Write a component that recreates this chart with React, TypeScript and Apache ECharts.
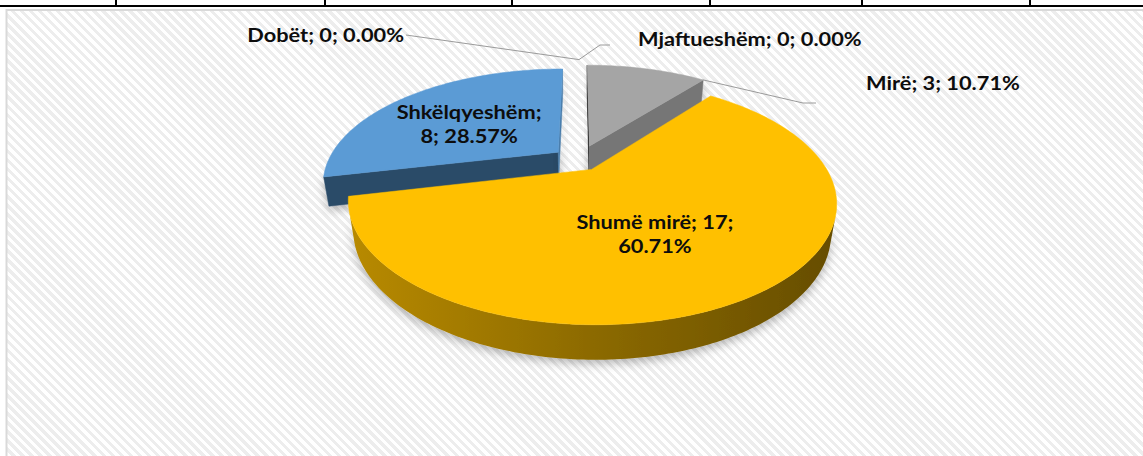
import React, { useEffect, useRef } from "react";
import * as echarts from "echarts";

// ---------- data ----------
const categories = ["Dobët", "Mjaftueshëm", "Mirë", "Shumë mirë", "Shkëlqyeshëm"];
const counts = [0, 0, 3, 17, 8];

// ---------- styles ----------
const sliceColors = ["#5B9BD5", "#ED7D31", "#A5A5A5", "#FFC000", "#5B9BD5"];
const explodePx = [32, 32, 32, 23, 27];
const VIEW = { cx: 579, cy: 160, r: 230, depth: 33, elevDeg: 28.2, camDist: 773 };
const TABLE_COLS = [116, 325, 512, 710, 862, 1030];
const FONT = { family: "Lato", size: 18, weight: "bold", scaleX: 1.21, color: "#0D0D0D" };

const labelCfg: Record<string, any> = {
  "Dobët": { mode: "outside", anchorAt: "start", anchorR: 1.08, path: [[406, 35]], pos: [404, 35], align: "right" },
  "Mjaftueshëm": { mode: "outside", anchorAt: "start", anchorR: 1.08, path: [[600, 45], [610, 45]], pos: [638, 39], align: "left" },
  "Mirë": { mode: "outside", anchorAt: "end", anchorR: 1.0, path: [[803, 103], [816, 103]], pos: [866, 83], align: "left" },
  "Shumë mirë": { mode: "inside", rFrac: 0.55, dx: -17, dy: 4, breakAfter: 2 },
  "Shkëlqyeshëm": { mode: "inside", rFrac: 0.48, dx: -12, dy: 1, breakAfter: 1 },
};

const S = Math.sin((VIEW.elevDeg * Math.PI) / 180);
const C = Math.cos((VIEW.elevDeg * Math.PI) / 180);
const CAM = [0, VIEW.camDist * S, -VIEW.camDist * C];

function proj(X: number, Y: number, Z: number): number[] {
  const d = Z * C - Y * S;
  const s = VIEW.camDist / (VIEW.camDist + d);
  return [VIEW.cx + X * s, VIEW.cy - (Y * C + Z * S) * s];
}

function shade(hex: string, f: number): string {
  const n = parseInt(hex.slice(1), 16);
  const r = Math.round(((n >> 16) & 255) * f);
  const g = Math.round(((n >> 8) & 255) * f);
  const b = Math.round((n & 255) * f);
  return `rgb(${r},${g},${b})`;
}

function renderSlice(params: any, api: any) {
  const i = params.dataIndex;
  const v = api.value(1) as number;
  const total = counts.reduce((a, b) => a + b, 0);
  let acc = 0;
  for (let k = 0; k < i; k++) acc += counts[k];
  const t0 = (acc / total) * Math.PI * 2;
  const t1 = ((acc + v) / total) * Math.PI * 2;
  const tm = (t0 + t1) / 2;
  const ex = explodePx[i];
  const ox = ex * Math.sin(tm);
  const oz = ex * Math.cos(tm);
  const R = VIEW.r;
  const H = VIEW.depth;
  const base = sliceColors[i];
  const z2 = Math.round((1 - Math.cos(tm)) * 10);
  const children: any[] = [];

  if (v > 0) {
    const shadowStyle = { shadowBlur: 10, shadowColor: "rgba(0,0,0,0.28)", shadowOffsetY: 4 };
    const cut = (th: number, sign: number) => {
      const na = th + (sign * Math.PI) / 2;
      const n = [Math.sin(na), 0, Math.cos(na)];
      const tc = [CAM[0] - ox, CAM[1], CAM[2] - oz];
      if (n[0] * tc[0] + n[2] * tc[2] <= 0) return;
      const ex2 = ox + R * Math.sin(th);
      const ez2 = oz + R * Math.cos(th);
      const pts = [proj(ox, 0, oz), proj(ex2, 0, ez2), proj(ex2, -H, ez2), proj(ox, -H, oz)];
      const f = 0.4 + 0.4 * n[0];
      children.push({
        type: "polygon",
        shape: { points: pts },
        style: { fill: shade(base, f), stroke: shade(base, f), lineWidth: 0.5, ...shadowStyle },
        z2: z2,
      });
    };
    cut(t0, -1);
    cut(t1, 1);
    const steps = Math.max(4, Math.ceil((t1 - t0) / (Math.PI / 180)));
    let run: number[] = [];
    const flush = () => {
      if (run.length >= 2) {
        const top = run.map((th) => proj(ox + R * Math.sin(th), 0, oz + R * Math.cos(th)));
        const bot = run.map((th) => proj(ox + R * Math.sin(th), -H, oz + R * Math.cos(th))).reverse();
        children.push({
          type: "polygon",
          shape: { points: top.concat(bot) },
          style: {
            fill: {
              type: "linear", x: 0, y: 0, x2: 1, y2: 0,
              colorStops: [
                { offset: 0, color: shade(base, 0.72) },
                { offset: 0.5, color: shade(base, 0.55) },
                { offset: 1, color: shade(base, 0.4) },
              ],
            },
            ...shadowStyle,
          },
          z2: z2 + 1,
        });
      }
      run = [];
    };
    for (let k = 0; k <= steps; k++) {
      const th = t0 + ((t1 - t0) * k) / steps;
      const px = ox + R * Math.sin(th);
      const pz = oz + R * Math.cos(th);
      const vis = Math.sin(th) * (CAM[0] - px) + Math.cos(th) * (CAM[2] - pz) > 0;
      if (vis) run.push(th);
      else flush();
    }
    flush();
    const topPts = [proj(ox, 0, oz)];
    for (let k = 0; k <= steps; k++) {
      const th = t0 + ((t1 - t0) * k) / steps;
      topPts.push(proj(ox + R * Math.sin(th), 0, oz + R * Math.cos(th)));
    }
    children.push({
      type: "polygon",
      shape: { points: topPts },
      style: { fill: base, stroke: base, lineWidth: 0.5 },
      z2: z2 + 2,
    });
  }

  const name = categories[i];
  const pct = ((v / total) * 100).toFixed(2) + "%";
  const parts = [name, String(v), pct];
  const cfg = labelCfg[name];
  const textStyle = {
    fill: FONT.color,
    fontFamily: FONT.family,
    fontSize: FONT.size,
    fontWeight: FONT.weight,
    verticalAlign: "middle",
    lineHeight: 24,
  };
  if (cfg && cfg.mode === "inside") {
    const r = R * cfg.rFrac;
    const p = proj(ox + r * Math.sin(tm), 0, oz + r * Math.cos(tm));
    const b = cfg.breakAfter;
    const text = parts.slice(0, b).join("; ") + ";\n" + parts.slice(b).join("; ");
    children.push({
      type: "text",
      x: p[0] + cfg.dx,
      y: p[1] + cfg.dy,
      scaleX: FONT.scaleX,
      z2: 100,
      style: { ...textStyle, text, align: "center" },
    });
  } else if (cfg) {
    const th = cfg.anchorAt === "start" ? t0 : cfg.anchorAt === "end" ? t1 : tm;
    const rr = R * cfg.anchorR;
    const a = proj(ox + rr * Math.sin(th), 0, oz + rr * Math.cos(th));
    children.push({
      type: "polyline",
      shape: { points: [a, ...cfg.path] },
      style: { stroke: "#9A9A9A", lineWidth: 1, fill: null },
      z2: 90,
    });
    children.push({
      type: "text",
      x: cfg.pos[0],
      y: cfg.pos[1],
      scaleX: FONT.scaleX,
      z2: 100,
      style: { ...textStyle, text: parts.join("; "), align: cfg.align },
    });
  }
  return { type: "group", children };
}

export default function App() {
  const ref = useRef<HTMLDivElement>(null);
  useEffect(() => {
    if (!ref.current) return;
    const chart = echarts.init(ref.current, undefined, { renderer: "svg" });
    const graphic: any[] = [
      {
        type: "rect",
        shape: { x: 6.5, y: 10, width: 1300, height: 600 },
        style: { fill: "none", stroke: "#D9D9D9", lineWidth: 2 },
        silent: true,
      },
      {
        type: "line",
        shape: { x1: 0, y1: 6, x2: 1143, y2: 6 },
        style: { stroke: "#000", lineWidth: 2 },
        silent: true,
      },
      ...TABLE_COLS.map((x) => ({
        type: "line",
        shape: { x1: x, y1: 0, x2: x, y2: 6 },
        style: { stroke: "#000", lineWidth: 2 },
        silent: true,
      })),
    ];
    chart.setOption({
      animation: false,
      backgroundColor: "transparent",
      graphic,
      series: [
        {
          type: "custom",
          coordinateSystem: "none",
          silent: true,
          renderItem: renderSlice,
          data: counts.map((v, i) => ({ name: categories[i], value: [i, v] })),
        },
      ],
    });
    return () => chart.dispose();
  }, []);
  return (
    <div style={{ position: "fixed", left: 0, top: 0, width: 1143, height: 456, background: "#fff", overflow: "hidden" }}>
      <div
        style={{
          position: "absolute",
          left: 7,
          top: 11,
          right: 0,
          bottom: 0,
          background:
            "repeating-linear-gradient(45deg, #ffffff 0px, #ffffff 3.2px, #ededed 3.2px, #ededed 6.4px)",
        }}
      />
      <div ref={ref} style={{ position: "absolute", left: 0, top: 0, width: 1143, height: 456 }} />
    </div>
  );
}
